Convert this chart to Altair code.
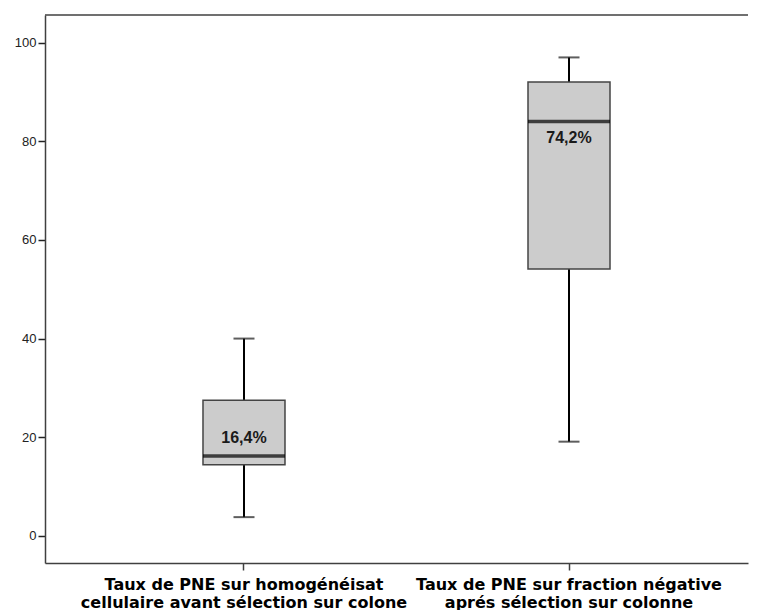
import altair as alt
import pandas as pd

categories = [
    "Taux de PNE sur homogénéisat|cellulaire avant sélection sur colone",
    "Taux de PNE sur fraction négative|aprés sélection sur colonne",
]
whisker_low = [3.8, 19.1]
q1 = [14.4, 54.1]
median = [16.2, 84.0]
q3 = [27.5, 92.0]
whisker_high = [40.0, 97.0]
labels = ["16,4%", "74,2%"]
label_y = [19.8, 80.6]
y_ticks = [0, 20, 40, 60, 80, 100]

df = pd.DataFrame({
    "cat": categories,
    "lo": whisker_low,
    "q1": q1,
    "med": median,
    "q3": q3,
    "hi": whisker_high,
    "lab": labels,
    "laby": label_y,
})

W, H = 703, 548
AX = "#404040"

xscale = alt.Scale(type="band", paddingInner=0, paddingOuter=0.0815, align=0.6887)
yscale = alt.Scale(domain=[-5.5, 105.6], nice=False, zero=False)

x_axis = alt.Axis(
    title=None, labelAngle=0, labelExpr="split(datum.label, '|')",
    labelFont="DejaVu Sans", labelFontWeight="bold", labelFontSize=16,
    labelColor="#000000", labelLineHeight=18, labelPadding=6, labelLimit=0,
    tickSize=7, tickColor=AX, tickWidth=1.5, domainColor=AX, domainWidth=1.5,
)
y_axis = alt.Axis(
    title=None, values=y_ticks, grid=False, labelFont="Liberation Sans",
    labelFontSize=13, labelColor="#222222", labelPadding=2,
    tickSize=7, tickColor="#222222", tickWidth=1.5, domainColor=AX, domainWidth=1.5,
)

base = alt.Chart(df)
X = alt.X("cat:N", sort=categories, scale=xscale, axis=x_axis, title=None)


def Y(field):
    return alt.Y(field, type="quantitative", scale=yscale, axis=y_axis, title=None)


whisk_lo = base.mark_rule(color="#000000", strokeWidth=2).encode(
    x=X, y=Y("lo"), y2="q1:Q")
whisk_hi = base.mark_rule(color="#000000", strokeWidth=2).encode(
    x=X, y=Y("q3"), y2="hi:Q")
box = base.mark_bar(size=82, fill="#cccccc", stroke="#444444", strokeWidth=1.5).encode(
    x=X, y=Y("q1"), y2="q3:Q")
med = base.mark_tick(orient="horizontal", size=82, thickness=3.5, color="#000000").encode(
    x=X, y=Y("med"))
cap_lo = base.mark_tick(orient="horizontal", size=21, thickness=2, color="#1a1a1a").encode(
    x=X, y=Y("lo"))
cap_hi = base.mark_tick(orient="horizontal", size=21, thickness=2, color="#1a1a1a").encode(
    x=X, y=Y("hi"))
txt = base.mark_text(font="Liberation Sans", fontWeight="bold", fontSize=16, color="#1a1a1a").encode(
    x=X, y=Y("laby"), text="lab:N")
top = alt.Chart(pd.DataFrame({"a": [0]})).mark_rule(color=AX, strokeWidth=1.5).encode(
    x=alt.value(0), x2=alt.value(W), y=alt.value(0))

chart = alt.layer(whisk_lo, whisk_hi, box, med, cap_lo, cap_hi, txt, top).properties(
    width=W, height=H,
    padding={"left": 6, "top": 6, "right": 0, "bottom": 0},
    background="white",
).configure_view(stroke=None)

chart.save("out.html", embed_options={"renderer": "svg", "actions": False})
